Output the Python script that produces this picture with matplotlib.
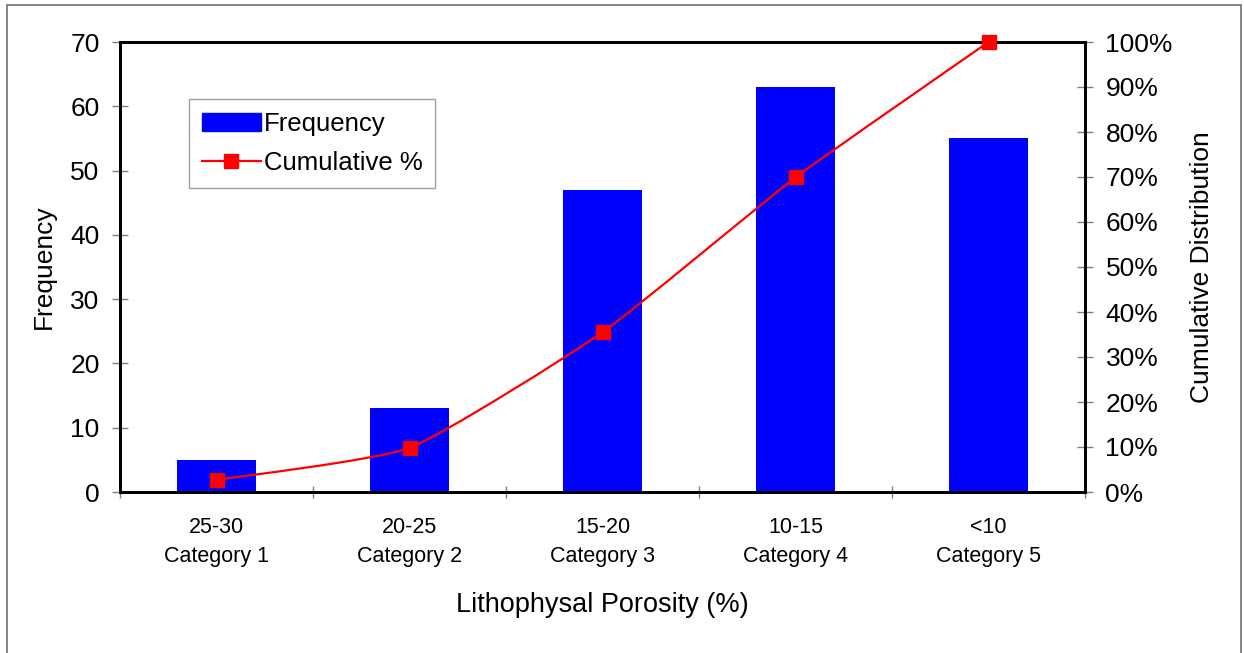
import numpy as np
import matplotlib
matplotlib.use('Agg')
import matplotlib.pyplot as plt
from matplotlib.path import Path
from matplotlib.patches import PathPatch, Rectangle
from matplotlib.lines import Line2D
from matplotlib.ticker import PercentFormatter

plt.rcParams['font.family'] = ['Liberation Sans', 'DejaVu Sans']

# dados
faixas = ['25-30', '20-25', '15-20', '10-15', '<10']
categorias = ['Category 1', 'Category 2', 'Category 3', 'Category 4', 'Category 5']
frequencia = [5, 13, 47, 63, 55]
cumulativo = [2.7, 9.8, 35.5, 69.9, 100.0]  # em %

W, H = 1244, 653
fig = plt.figure(figsize=(W / 100, H / 100), dpi=100)
ax = fig.add_axes([120 / W, 1 - 492 / H, 965 / W, 450 / H])
ax2 = ax.twinx()

x = np.arange(len(frequencia))
ax.bar(x, frequencia, width=0.41, color='#0000ff', zorder=2)
ax.set_xlim(-0.5, len(frequencia) - 0.5)
ax.set_ylim(0, 70)
ax.set_yticks(range(0, 71, 10))

# eixo x: ticks nas divisas, rotulos no centro
ax.set_xticks(np.arange(-0.5, len(frequencia), 1.0))
ax.set_xticklabels([])
ax.set_xticks(x, minor=True)
ax.set_xticklabels([f + '\n' + c for f, c in zip(faixas, categorias)], minor=True,
                   fontsize=15.5, linespacing=1.5)
ax.tick_params(axis='x', which='minor', length=0, pad=18)
ax.tick_params(axis='x', which='major', direction='inout', length=8, width=1, color='#808080')
ax.tick_params(axis='y', direction='inout', length=11.5, width=1, color='#808080',
               labelsize=19, pad=9)

# curva acumulada suavizada (bezier estilo excel, tensao baixa)
ycum = np.array(cumulativo) / 100.0
pts = np.column_stack([x, ycum])
verts = [pts[0]]
codes = [Path.MOVETO]
n = len(pts)
k = 1 / 12.0
for i in range(n - 1):
    p0 = pts[i - 1] if i > 0 else pts[i]
    p3 = pts[i + 2] if i + 2 < n else pts[i + 1]
    c1 = pts[i] + (pts[i + 1] - p0) * k
    c2 = pts[i + 1] - (p3 - pts[i]) * k
    verts += [c1, c2, pts[i + 1]]
    codes += [Path.CURVE4] * 3
ax2.add_patch(PathPatch(Path(verts, codes), fill=False, edgecolor='#ff0000', lw=1.6,
                        transform=ax2.transData, zorder=3))
ax2.plot(x, ycum, 's', color='#ff0000', markersize=10, zorder=4, clip_on=False)
ax2.set_ylim(0, 1)
ax2.set_yticks(np.arange(0, 1.01, 0.1))
ax2.yaxis.set_major_formatter(PercentFormatter(1.0, decimals=0))
ax2.tick_params(axis='y', direction='inout', length=11.5, width=1, color='#808080',
                labelsize=19, pad=9)

for a in (ax, ax2):
    for s in a.spines.values():
        s.set_linewidth(2)
        s.set_color('black')

ax.set_ylabel('Frequency', fontsize=19, labelpad=10)
ax2.set_ylabel('Cumulative Distribution', fontsize=19, labelpad=12)
ax.set_xlabel('Lithophysal Porosity (%)', fontsize=19.5, labelpad=18)

handles = [Rectangle((0, 0), 1, 1, color='#0000ff'),
           Line2D([], [], color='#ff0000', lw=1.6, marker='s', markersize=10)]
leg = ax2.legend(handles, ['Frequency', 'Cumulative %'], loc='upper left',
                 bbox_to_anchor=((189 - 120) / 965, (492 - 99) / 450), borderaxespad=0,
                 fontsize=18.5, fancybox=False, framealpha=1, edgecolor='#a0a0a0',
                 handlelength=2.3, handletextpad=0.1, labelspacing=0.6,
                 borderpad=0.5)
leg.get_frame().set_linewidth(1)

# moldura externa
fig.add_artist(Rectangle((7 / W, -0.02), (1241 - 7) / W, 1 - 5 / H + 0.02,
                         transform=fig.transFigure, fill=False, edgecolor='#707070', lw=1.2))

fig.savefig('out.png', dpi=100)
